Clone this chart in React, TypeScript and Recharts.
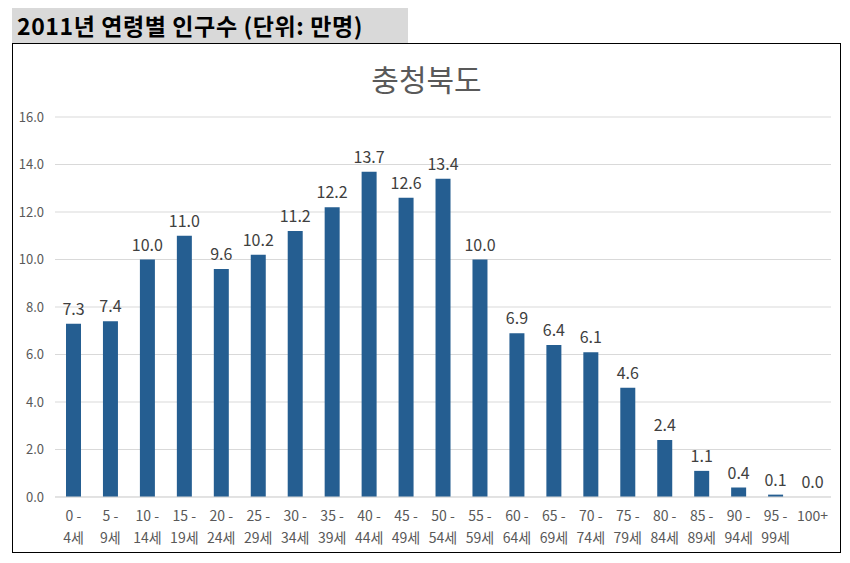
import { BarChart, Bar, XAxis, YAxis, CartesianGrid, LabelList } from "recharts";

const ageStart = ["0 -", "5 -", "10 -", "15 -", "20 -", "25 -", "30 -", "35 -", "40 -", "45 -", "50 -",
  "55 -", "60 -", "65 -", "70 -", "75 -", "80 -", "85 -", "90 -", "95 -", "100+"];
const ageEnd = ["4세", "9세", "14세", "19세", "24세", "29세", "34세", "39세", "44세", "49세", "54세",
  "59세", "64세", "69세", "74세", "79세", "84세", "89세", "94세", "99세", ""];
const population = [7.3, 7.4, 10.0, 11.0, 9.6, 10.2, 11.2, 12.2, 13.7, 12.6, 13.4,
  10.0, 6.9, 6.4, 6.1, 4.6, 2.4, 1.1, 0.4, 0.1, 0.0];
const yTicks = [0, 2, 4, 6, 8, 10, 12, 14, 16];

const data = population.map((v, i) => ({ age: ageStart[i], end: ageEnd[i], value: v }));

const FONT = '"Noto Sans CJK KR", "Noto Sans", sans-serif';

const AgeTick = ({ x, y, payload, index }: any) => (
  <text x={x} y={y} textAnchor="middle" fill="#595959" fontSize={14} fontFamily={FONT}>
    <tspan x={x} dy={16}>{ageStart[index] ?? payload.value}</tspan>
    <tspan x={x} dy={22}>{ageEnd[index]}</tspan>
  </text>
);

export default function App() {
  return (
    <div style={{ position: "relative", width: 850, height: 563, margin: -8, background: "#fff", fontFamily: FONT }}>
      <div style={{
        position: "absolute", left: 12, top: 8, width: 396, height: 35, background: "#d9d9d9",
        fontSize: 23, letterSpacing: 0.6, fontWeight: 700, color: "#000", lineHeight: "35px",
        paddingLeft: 5, boxSizing: "border-box", whiteSpace: "nowrap",
      }}>
        2011년 연령별 인구수 (단위: 만명)
      </div>
      <div style={{
        position: "absolute", left: 12, top: 43, width: 829, height: 510,
        border: "1px solid #000", boxSizing: "border-box",
      }} />
      <div style={{
        position: "absolute", left: 12, top: 56, width: 829, textAlign: "center",
        fontSize: 30, color: "#595959",
      }}>
        충청북도
      </div>
      <div style={{ position: "absolute", left: 12, top: 43 }}>
        <BarChart width={829} height={510} data={data} margin={{ top: 74, right: 10, bottom: 0, left: 0 }}>
          <CartesianGrid vertical={false} stroke="#d9d9d9" />
          <XAxis dataKey="age" interval={0} tick={<AgeTick />} tickLine={false}
            axisLine={{ stroke: "#d9d9d9" }} height={56} />
          <YAxis domain={[0, 16]} ticks={yTicks} width={43} tickLine={false} axisLine={false}
            tickMargin={5} tickFormatter={(v: number) => v.toFixed(1)}
            tick={{ fill: "#595959", fontSize: 13, fontFamily: FONT }} />
          <Bar dataKey="value" fill="#255e91" barSize={15} minPointSize={0.01} isAnimationActive={false}>
            <LabelList dataKey="value" position="top" offset={9} fill="#404040" fontSize={16}
              fontFamily={FONT} formatter={(v: any) => Number(v).toFixed(1)} />
          </Bar>
        </BarChart>
      </div>
    </div>
  );
}
